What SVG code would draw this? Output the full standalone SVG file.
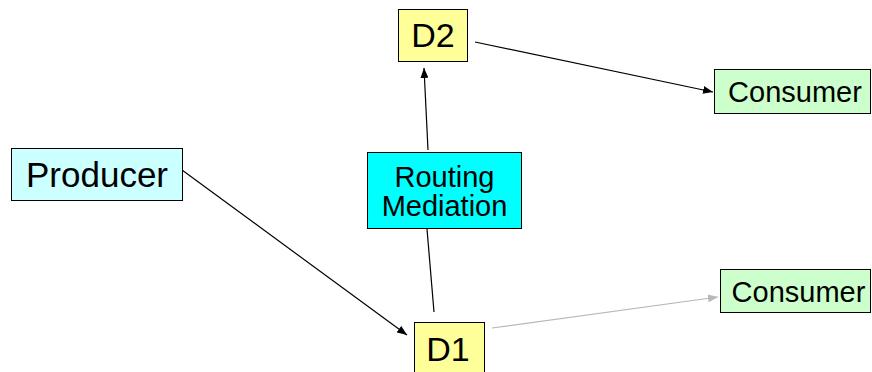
<svg xmlns="http://www.w3.org/2000/svg" width="872" height="372" viewBox="0 0 872 372">
  <style>
    .box { stroke: #000000; stroke-width: 1; }
    .lbl { font-family: "Liberation Sans", Arial, sans-serif; fill: #000000; text-anchor: middle; }
    .edge { fill: none; stroke: #000000; stroke-width: 1.2; }
    .edge.gray { stroke: #b8b8b8; }
  </style>
  <defs>
    <marker id="arr" markerUnits="userSpaceOnUse" markerWidth="11" markerHeight="8" refX="10" refY="4" orient="auto">
      <path d="M0,0 L10,4 L0,8 z" fill="#000000"/>
    </marker>
    <marker id="arrGray" markerUnits="userSpaceOnUse" markerWidth="11" markerHeight="8" refX="10" refY="4" orient="auto">
      <path d="M0,0 L10,4 L0,8 z" fill="#b8b8b8"/>
    </marker>
  </defs>
  <rect width="872" height="372" fill="#ffffff"/>

  <g id="connectors">
    <line class="edge" x1="182" y1="170" x2="407" y2="335" marker-end="url(#arr)"/>
    <line class="edge" x1="434" y1="312" x2="427" y2="229"/>
    <line class="edge" x1="428" y1="150" x2="424" y2="68" marker-end="url(#arr)"/>
    <line class="edge" x1="475" y1="42" x2="713" y2="92" marker-end="url(#arr)"/>
    <line class="edge gray" x1="492" y1="328" x2="718" y2="297" marker-end="url(#arrGray)"/>
  </g>

  <g id="producer">
    <rect class="box" x="11.5" y="148.5" width="171" height="52" fill="#ccffff"/>
    <text class="lbl" x="97" y="187" font-size="35">Producer</text>
  </g>

  <g id="routing">
    <rect class="box" x="367.5" y="152.5" width="154" height="76" fill="#00ffff"/>
    <text class="lbl" x="444.5" y="187" font-size="29">Routing</text>
    <text class="lbl" x="444.5" y="216" font-size="29">Mediation</text>
  </g>

  <g id="d2">
    <rect class="box" x="398.5" y="9.5" width="69" height="52" fill="#ffff99"/>
    <text class="lbl" x="433" y="47" font-size="34">D2</text>
  </g>

  <g id="d1">
    <rect class="box" x="414.5" y="322.5" width="70" height="60" fill="#ffff99"/>
    <text class="lbl" x="448" y="361" font-size="34">D1</text>
  </g>

  <g id="consumer1">
    <rect class="box" x="714.5" y="69.5" width="156" height="44" fill="#ccffcc"/>
    <text class="lbl" x="795" y="102" font-size="29">Consumer</text>
  </g>

  <g id="consumer2">
    <rect class="box" x="720.5" y="269.5" width="150" height="43" fill="#ccffcc"/>
    <text class="lbl" x="798.5" y="302" font-size="29">Consumer</text>
  </g>
</svg>
